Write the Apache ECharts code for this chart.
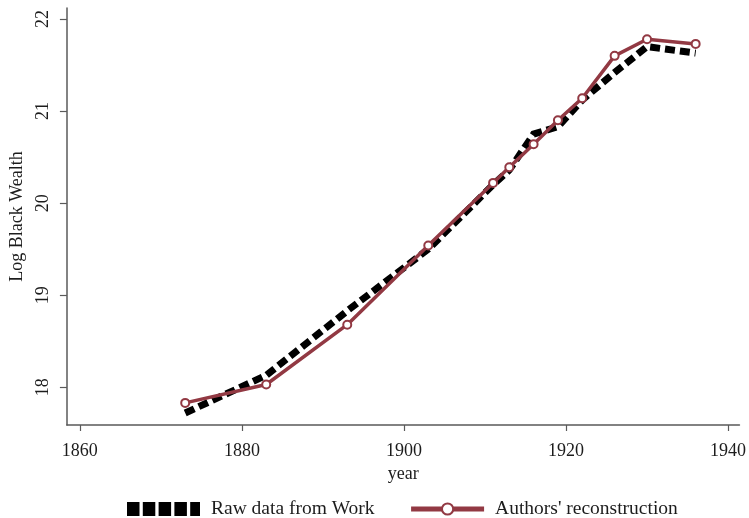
<!DOCTYPE html>
<html>
<head>
<meta charset="utf-8">
<title>Log Black Wealth</title>
<script src="https://cdn.jsdelivr.net/npm/echarts@6/dist/echarts.min.js"></script>
<style>
  html, body { margin: 0; padding: 0; background: #fff; }
  #chart { width: 749px; height: 518px; }
</style>
</head>
<body>
<div id="chart"></div>
<script>
// Survey years shared by both series
const years = [1873, 1883, 1893, 1903, 1911, 1913, 1916, 1919, 1922, 1926, 1930, 1936];

// Log of aggregate Black wealth, raw figures from Work
const rawWork = [17.72, 18.13, 18.83, 19.50, 20.20, 20.36, 20.75, 20.83, 21.12, 21.42, 21.70, 21.63];

// Log of aggregate Black wealth, authors' reconstruction
const reconstruction = [17.83, 18.03, 18.68, 19.54, 20.22, 20.39, 20.64, 20.90, 21.14, 21.60, 21.78, 21.73];

// Tick labels
const xTicks = [1860, 1880, 1900, 1920, 1940];
const yTicks = [18, 19, 20, 21, 22];

const FONT = '"Liberation Serif", "DejaVu Serif", serif';
const TEXT = '#1c1c1c';
const AXIS = '#5a5a5a';
const RED = '#923943';

const pairs = (xs, ys) => xs.map((x, i) => [x, ys[i]]);

// Five squares laid out along the legend key for the dashed series
const dashIcon = 'path://M0,0h12.5v14h-12.5z M15.8,0h12.5v14h-12.5z M31.6,0h12.5v14h-12.5z M47.4,0h12.5v14h-12.5z M63.2,0h9.8v14h-9.8z';

const chart = echarts.init(document.getElementById('chart'), null, { renderer: 'canvas' });

chart.setOption({
  animation: false,
  backgroundColor: '#fff',
  textStyle: { fontFamily: FONT, color: TEXT },
  grid: { left: 63, right: 6, top: 8, bottom: 93, containLabel: false },
  xAxis: {
    type: 'value',
    min: 1858.4,
    max: 1941.4,
    name: 'year',
    nameLocation: 'middle',
    nameGap: 32,
    nameTextStyle: { fontFamily: FONT, fontSize: 18, color: TEXT },
    axisLine: { show: true, lineStyle: { color: AXIS, width: 1.5 } },
    axisTick: { show: true, length: 6, lineStyle: { color: AXIS, width: 1.2 }, customValues: xTicks },
    axisLabel: {
      fontFamily: FONT, fontSize: 18, color: TEXT, margin: 17, customValues: xTicks,
      formatter: v => String(v)
    },
    splitLine: { show: false }
  },
  yAxis: {
    type: 'value',
    min: 17.59,
    max: 22.12,
    name: 'Log Black Wealth',
    nameLocation: 'middle',
    nameGap: 31,
    nameRotate: 90,
    nameTextStyle: { fontFamily: FONT, fontSize: 18, color: TEXT },
    axisLine: { show: true, lineStyle: { color: AXIS, width: 1.5 } },
    axisTick: { show: true, length: 7, lineStyle: { color: AXIS, width: 1.2 }, customValues: yTicks },
    axisLabel: {
      fontFamily: FONT, fontSize: 18, color: TEXT, margin: 15, rotate: 90, customValues: yTicks,
      formatter: v => String(v)
    },
    splitLine: { show: false }
  },
  legend: {
    left: 127,
    top: 499,
    padding: 0,
    itemWidth: 73,
    itemHeight: 14,
    itemGap: 34,
    textStyle: { fontFamily: FONT, fontSize: 19.5, color: TEXT, padding: [0, 0, 0, 6] },
    data: [
      { name: 'Raw data from Work', icon: dashIcon, itemStyle: { color: '#000' } },
      { name: "Authors' reconstruction", lineStyle: { width: 5, color: RED } }
    ]
  },
  series: [
    {
      name: 'Raw data from Work',
      type: 'line',
      data: pairs(years, rawWork),
      symbol: 'none',
      itemStyle: { color: '#000' },
      lineStyle: { color: '#000', width: 7, type: [10, 5], cap: 'butt', join: 'miter' },
      z: 2
    },
    {
      name: "Authors' reconstruction",
      type: 'line',
      data: pairs(years, reconstruction),
      symbol: 'emptyCircle',
      symbolSize: 8,
      itemStyle: { color: RED, borderColor: RED, borderWidth: 1.5 },
      lineStyle: { color: RED, width: 3.5 },
      z: 3
    }
  ]
});
</script>
</body>
</html>
